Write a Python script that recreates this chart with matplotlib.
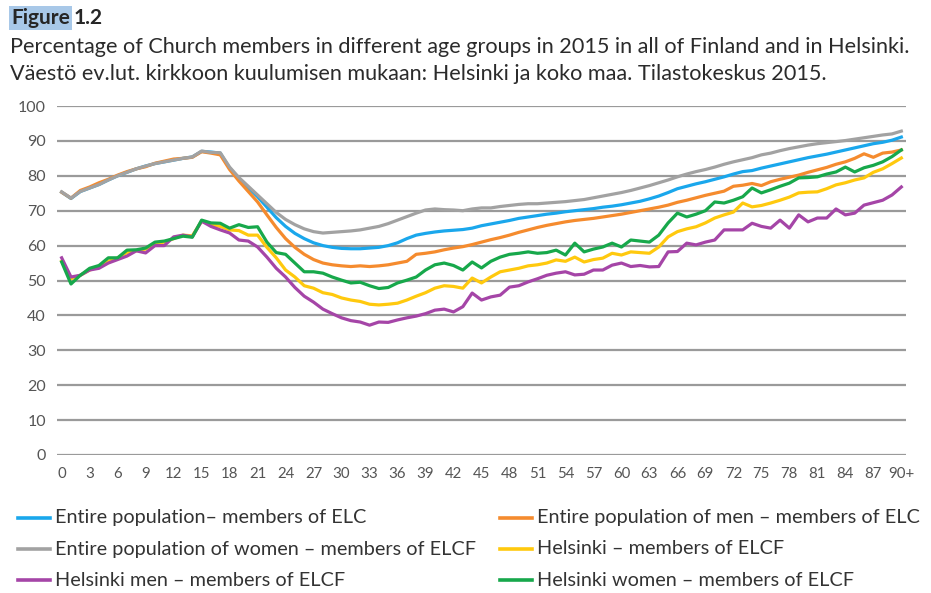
import matplotlib
matplotlib.use("Agg")
import matplotlib.pyplot as plt
from matplotlib.lines import Line2D

ages = list(range(91))
x_tick_labels = [str(a) for a in range(0, 90, 3)] + ["90+"]
x_tick_pos = list(range(0, 90, 3)) + [90]

entire_pop = [75.3, 73.5, 75.5, 76.5, 77.5, 78.8, 80.0, 81.0, 82.0, 82.8, 83.5, 84.0, 84.5, 85.0, 85.4, 87.0, 86.8, 86.5,
              82.2, 79.2, 76.6, 74.0, 71.0, 68.0, 65.5, 63.5, 62.0, 60.8, 60.0, 59.5, 59.2, 59.1, 59.1, 59.3, 59.5, 60.0,
              60.8, 62.0, 63.0, 63.5, 63.9, 64.2, 64.4, 64.6, 65.0, 65.7, 66.2, 66.7, 67.2, 67.8, 68.2, 68.6, 69.0, 69.3,
              69.7, 70.0, 70.3, 70.6, 71.0, 71.3, 71.7, 72.2, 72.7, 73.4, 74.2, 75.2, 76.3, 77.0, 77.7, 78.3, 79.0, 79.7,
              80.5, 81.2, 81.5, 82.2, 82.8, 83.4, 84.0, 84.6, 85.2, 85.7, 86.2, 86.8, 87.4, 88.0, 88.6, 89.2, 89.6, 90.2,
              91.1]
entire_men = [75.3, 73.6, 75.8, 76.8, 78.0, 79.0, 80.2, 81.2, 82.0, 82.6, 83.6, 84.2, 84.8, 85.0, 85.3, 86.9, 86.5, 86.0,
              81.8, 78.5, 75.5, 72.5, 68.8, 65.2, 62.0, 59.5, 57.5, 56.0, 55.0, 54.5, 54.2, 54.0, 54.2, 54.0, 54.2, 54.5,
              55.0, 55.5, 57.5, 57.8, 58.2, 58.8, 59.3, 59.7, 60.3, 61.0, 61.7, 62.3, 63.0, 63.8, 64.5, 65.2, 65.8, 66.3,
              66.8, 67.2, 67.5, 67.8, 68.2, 68.6, 69.0, 69.5, 70.0, 70.5, 71.0, 71.6, 72.4, 73.0, 73.7, 74.4, 75.0, 75.6,
              77.0, 77.3, 77.8, 77.2, 78.3, 79.0, 79.6, 80.2, 81.0, 81.7, 82.4, 83.3, 84.0, 85.0, 86.3, 85.3, 86.5, 86.8,
              87.4]
entire_women = [75.4, 73.6, 75.5, 76.5, 77.5, 78.8, 80.0, 81.0, 82.0, 82.8, 83.5, 84.0, 84.5, 85.0, 85.4, 87.1, 86.7, 86.6,
                82.5, 79.5, 77.0, 74.5, 72.0, 69.5, 67.5, 66.0, 64.8, 64.0, 63.6, 63.8, 64.0, 64.2, 64.5, 65.0, 65.5, 66.3,
                67.3, 68.3, 69.3, 70.2, 70.5, 70.3, 70.2, 70.0, 70.5, 70.8, 70.8, 71.2, 71.5, 71.8, 72.0, 72.0, 72.2, 72.4,
                72.6, 72.9, 73.2, 73.7, 74.2, 74.7, 75.2, 75.8, 76.5, 77.2, 78.0, 78.8, 79.7, 80.5, 81.2, 81.8, 82.5, 83.3,
                84.0, 84.6, 85.2, 86.0, 86.5, 87.2, 87.8, 88.3, 88.8, 89.2, 89.5, 89.8, 90.1, 90.5, 90.9, 91.3, 91.7, 92.0,
                92.8]
helsinki = [55.5, 50.5, 51.5, 53.0, 54.0, 55.5, 56.5, 58.0, 58.5, 59.0, 60.5, 61.0, 62.0, 63.0, 62.8, 67.0, 66.0, 65.5,
            64.5, 64.3, 63.0, 63.0, 59.5, 56.5, 53.0, 51.0, 48.5, 47.8, 46.5, 46.0, 45.0, 44.4, 44.0, 43.2, 43.0, 43.2,
            43.5, 44.4, 45.5, 46.5, 47.8, 48.5, 48.3, 47.8, 50.7, 49.3, 51.0, 52.5, 53.0, 53.5, 54.2, 54.5, 55.0, 55.9,
            55.5, 56.7, 55.3, 56.0, 56.4, 57.8, 57.3, 58.2, 58.0, 57.8, 59.6, 62.5, 64.0, 64.8, 65.4, 66.5, 67.9, 68.8,
            69.6, 72.2, 71.1, 71.5, 72.2, 73.0, 73.9, 75.1, 75.3, 75.4, 76.3, 77.4, 78.0, 78.8, 79.4, 81.0, 82.0, 83.5,
            85.1]
helsinki_men = [56.5, 51.0, 51.5, 53.0, 53.5, 55.0, 56.0, 57.0, 58.5, 57.9, 60.0, 60.0, 62.5, 63.0, 62.5, 67.0, 65.5, 64.5,
                63.6, 61.6, 61.3, 59.6, 56.7, 53.5, 51.0, 48.0, 45.5, 43.8, 41.8, 40.5, 39.3, 38.5, 38.1, 37.2, 38.1, 38.0,
                38.7, 39.3, 39.8, 40.5, 41.5, 41.8, 41.0, 42.5, 46.4, 44.4, 45.3, 45.8, 48.1, 48.5, 49.6, 50.5, 51.5, 52.1,
                52.5, 51.6, 51.8, 53.0, 53.0, 54.4, 55.0, 54.0, 54.3, 53.9, 54.0, 58.2, 58.3, 60.7, 60.2, 61.0, 61.6, 64.5,
                64.5, 64.5, 66.4, 65.5, 65.0, 67.3, 65.0, 68.8, 66.8, 67.9, 67.9, 70.5, 68.8, 69.3, 71.6, 72.3, 73.0, 74.5,
                76.8]
helsinki_women = [55.3, 49.0, 51.5, 53.5, 54.3, 56.5, 56.5, 58.7, 58.8, 59.3, 61.0, 61.3, 62.0, 62.7, 62.4, 67.3, 66.5, 66.4,
                  65.0, 66.0, 65.2, 65.4, 61.0, 58.0, 57.5, 55.0, 52.5, 52.5, 52.1, 51.0, 50.1, 49.3, 49.5, 48.5, 47.7, 48.0,
                  49.3, 50.1, 51.0, 53.0, 54.5, 55.0, 54.3, 53.0, 55.3, 53.6, 55.5, 56.7, 57.5, 57.8, 58.2, 57.8, 58.0, 58.7,
                  57.3, 60.7, 58.2, 59.0, 59.6, 60.7, 59.6, 61.6, 61.3, 61.0, 63.0, 66.5, 69.3, 68.2, 69.0, 70.0, 72.5, 72.2,
                  73.0, 74.0, 76.5, 75.1, 76.0, 77.0, 77.9, 79.4, 79.5, 79.7, 80.5, 81.1, 82.5, 81.1, 82.3, 83.0, 84.0, 85.5,
                  87.4]

series_labels = [
    "Entire population\u2013 members of ELC",
    "Entire population of men \u2013 members of ELC",
    "Entire population of women \u2013 members of ELCF",
    "Helsinki \u2013 members of ELCF",
    "Helsinki men \u2013 members of ELCF",
    "Helsinki women \u2013 members of ELCF",
]
series = [entire_pop, entire_men, entire_women, helsinki, helsinki_men, helsinki_women]
colors = ["#1AA7EC", "#F58B2E", "#A2A2A2", "#FFC90E", "#A545A7", "#17A84B"]

FONT = "Lato"
plt.rcParams["font.family"] = [FONT, "DejaVu Sans"]

W, H = 931, 593
fig = plt.figure(figsize=(W / 100, H / 100), dpi=100)

def fx(px):
    return px / W

def fy(py):
    return 1 - py / H

ax = fig.add_axes([fx(57), fy(455), fx(906) - fx(57), fy(106) - fy(455)])
for vals, col in zip(series, colors):
    ax.plot(ages, vals, color=col, lw=2.3, solid_joinstyle="round", zorder=3)

ax.set_xlim(-0.5, 90.5)
ax.set_ylim(0, 100)
ax.set_yticks(range(0, 101, 10))
ax.set_xticks(x_tick_pos)
ax.set_xticklabels(x_tick_labels)
ax.grid(axis="y", color="#9A9A9A", lw=1.6, zorder=1)
ax.set_axisbelow(True)
for s in ax.spines.values():
    s.set_visible(False)
ax.tick_params(axis="both", length=0, colors="#555555", labelsize=11.5)
ax.tick_params(axis="y", pad=8)
ax.tick_params(axis="x", pad=9)
for lab in ax.get_xticklabels():
    lab.set_fontsize(10.8)

# Title
t1 = fig.text(fx(11), fy(18), "Figure", fontsize=15, fontweight="bold", color="#262626",
              va="center", ha="left",
              bbox=dict(facecolor="#A8C8E8", edgecolor="none", pad=1.5))
fig.canvas.draw()
bb = t1.get_window_extent(renderer=fig.canvas.get_renderer())
fig.text(bb.x1 / W + fx(4), fy(18), "1.2", fontsize=15, fontweight="bold", color="#262626",
         va="center", ha="left")
fig.text(fx(10), fy(47), "Percentage of Church members in different age groups in 2015 in all of Finland and in Helsinki.",
         fontsize=15.6, color="#2B2B2B", va="center", ha="left")
fig.text(fx(10), fy(74), "V\u00e4est\u00f6 ev.lut. kirkkoon kuulumisen mukaan: Helsinki ja koko maa. Tilastokeskus 2015.",
         fontsize=15.6, color="#2B2B2B", va="center", ha="left")

# Legend (manual, 3 rows x 2 columns)
rows_y = [518, 549, 580]
cols_x = [18, 500]
for i, (lab, col) in enumerate(zip(series_labels, colors)):
    r, c = divmod(i, 2)
    x0 = cols_x[c]
    y0 = rows_y[r]
    fig.add_artist(Line2D([fx(x0), fx(x0 + 32)], [fy(y0), fy(y0)], color=col, lw=2.6,
                          transform=fig.transFigure))
    fig.text(fx(x0 + 37), fy(y0), lab, fontsize=14.3, color="#333333", va="center", ha="left")

fig.savefig("out.png", dpi=100)
